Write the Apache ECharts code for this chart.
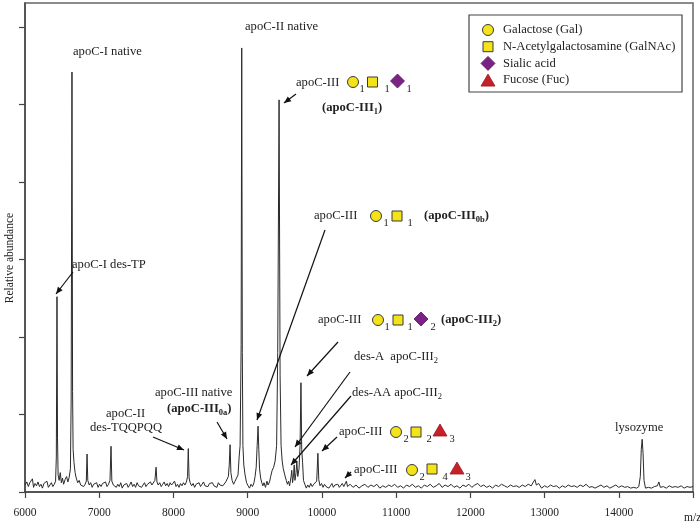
<!DOCTYPE html>
<html>
<head>
<meta charset="utf-8">
<script src="https://cdn.jsdelivr.net/npm/echarts@6/dist/echarts.min.js"></script>
<style>html,body{margin:0;padding:0;background:#fff}#c{width:700px;height:525px}</style>
</head>
<body>
<div id="c"></div>
<script>
// ---- data ----
const mz = [
6000,6025,6045,6065,6085,6100,6115,6135,6155,6175,6195,6215,6235,6255,6275,6295,6315,6335,6355,6375,6395,6412,6422,6431,6438,6446,6460,6475,6490,6505,6520,6540,6560,6578,6595,6612,6622,6633,6641,6648,6660,6675,6690,6710,6730,6750,6770,6790,6810,6826,6836,6846,6865,6885,6905,6925,6945,6965,6985,
7005,7025,7045,7065,7085,7105,7125,7145,7159,7170,7190,7210,7230,7250,7270,7290,7310,7330,7350,7370,7390,7410,7430,7450,7470,7490,7510,7530,7550,7570,7590,7610,7630,7650,7670,7690,7710,7730,7750,7766,7778,7795,7815,7835,7855,7875,7895,7915,7935,7955,7975,7995,
8015,8035,8055,8075,8095,8115,8135,8155,8175,8190,8200,8211,8225,8245,8265,8285,8305,8325,8345,8365,8385,8405,8425,8445,8465,8485,8505,8525,8545,8565,8585,8605,8625,8645,8665,8685,8705,8725,8740,8752,8763,8774,8790,8810,8830,8850,8870,8885,8898,8912,8920,8928,8936,8948,8965,8985,
9005,9025,9045,9065,9085,9100,9115,9128,9140,9150,9160,9175,9190,9205,9220,9240,9260,9275,9295,9310,9330,9350,9370,9390,9405,9423,9437,9450,9465,9480,9500,9520,9535,9550,9565,9585,9594,9605,9618,9627,9637,9652,9662,9675,9692,9706,9718,9728,9740,9752,9770,9790,9810,9830,9850,9870,9890,9910,9930,9946,9958,9975,9995,
10015,10035,10055,10075,10095,10115,10135,10155,10175,10195,10215,10235,10255,10275,10295,10315,10330,10345,10380,10420,10460,10500,10540,10580,10620,10660,10700,10740,10780,10820,10860,10900,10940,10980,
11020,11060,11100,11140,11180,11220,11260,11300,11340,11380,11420,11460,11500,11540,11580,11620,11660,11700,11740,11780,11820,11860,11900,11940,11980,
12020,12060,12100,12140,12180,12220,12260,12300,12340,12380,12420,12460,12500,12540,12580,12620,12660,12700,12740,12780,12820,12850,12870,12890,12920,12960,
13000,13040,13080,13120,13160,13200,13240,13280,13320,13360,13400,13440,13480,13520,13560,13600,13640,13680,13720,13760,13800,13840,13880,13920,13960,
14000,14040,14080,14120,14160,14200,14240,14270,14290,14303,14315,14327,14340,14360,14400,14440,14480,14520,14540,14560,14600,14640,14680,14720,14760,14800,14840,14880,14920,14960,15000
];
const abundance = [
0.09,0.13,0.07,0.12,0.10,0.17,0.06,0.11,0.08,0.13,0.07,0.10,0.05,0.11,0.09,0.14,0.06,0.09,0.12,0.07,0.10,0.14,0.45,2.52,0.70,0.22,0.15,0.25,0.12,0.18,0.10,0.16,0.20,0.13,0.19,0.30,1.20,5.42,1.30,0.55,0.38,0.25,0.18,0.12,0.15,0.09,0.11,0.07,0.10,0.14,0.49,0.15,0.09,0.12,0.06,0.10,0.08,0.12,0.06,
0.10,0.07,0.11,0.09,0.13,0.07,0.10,0.15,0.59,0.14,0.09,0.11,0.06,0.10,0.07,0.12,0.05,0.09,0.07,0.11,0.06,0.09,0.13,0.07,0.10,0.06,0.12,0.08,0.10,0.06,0.09,0.12,0.07,0.10,0.08,0.13,0.09,0.11,0.15,0.32,0.13,0.09,0.12,0.07,0.10,0.13,0.08,0.11,0.07,0.12,0.09,0.10,
0.14,0.07,0.10,0.06,0.11,0.08,0.12,0.09,0.13,0.20,0.56,0.18,0.12,0.08,0.11,0.06,0.10,0.08,0.12,0.07,0.10,0.13,0.08,0.10,0.07,0.11,0.09,0.12,0.08,0.10,0.06,0.12,0.09,0.11,0.08,0.10,0.13,0.11,0.20,0.35,0.61,0.25,0.15,0.10,0.14,0.12,0.22,0.45,0.60,1.90,5.73,1.80,0.60,0.35,0.22,0.12,
0.08,0.05,0.10,0.07,0.12,0.20,0.32,0.60,0.85,0.55,0.30,0.18,0.12,0.08,0.12,0.06,0.14,0.09,0.13,0.20,0.28,0.32,0.40,0.60,1.80,5.06,1.50,0.60,0.40,0.30,0.22,0.15,0.10,0.14,0.08,0.20,0.28,0.12,0.22,0.35,0.15,0.25,0.39,0.20,0.30,0.60,1.41,0.55,0.38,0.15,0.10,0.05,0.09,0.06,0.11,0.07,0.10,0.08,0.14,0.50,0.16,0.08,0.11,
0.06,0.10,0.07,0.09,0.05,0.08,0.11,0.06,0.09,0.07,0.10,0.06,0.08,0.11,0.07,0.09,0.14,0.07,0.10,0.06,0.09,0.05,0.08,0.10,0.06,0.09,0.07,0.10,0.05,0.08,0.06,0.09,0.07,0.10,
0.06,0.08,0.05,0.09,0.07,0.10,0.06,0.08,0.05,0.09,0.07,0.10,0.06,0.08,0.11,0.06,0.09,0.07,0.10,0.06,0.08,0.05,0.09,0.07,0.10,
0.06,0.09,0.11,0.07,0.09,0.06,0.08,0.05,0.09,0.07,0.10,0.08,0.06,0.09,0.07,0.08,0.06,0.09,0.07,0.10,0.08,0.13,0.16,0.09,0.11,0.05,
0.08,0.06,0.09,0.07,0.08,0.05,0.08,0.06,0.09,0.07,0.08,0.06,0.09,0.07,0.10,0.06,0.07,0.05,0.07,0.09,0.06,0.08,0.05,0.07,0.09,
0.06,0.08,0.06,0.07,0.05,0.06,0.05,0.07,0.20,0.55,0.68,0.50,0.15,0.05,0.06,0.05,0.07,0.08,0.13,0.06,0.07,0.05,0.08,0.06,0.07,0.06,0.08,0.05,0.07,0.06,0.07
];
const xTicks = [6000,7000,8000,9000,10000,11000,12000,13000,14000];
const yTicks = [0,1,2,3,4,5,6];
const legendItems = ['Galactose (Gal)','N-Acetylgalactosamine (GalNAc)','Sialic acid','Fucose (Fuc)'];

// ---- drawing ----
const FONT = '"Liberation Serif","Times New Roman",serif';
const TXT = '#222';
const YEL = '#f5e31a', PUR = '#7b2384', RED = '#c7202b', EDGE = '#3a3a3a';
const g = [];
function text(x, y, s, opt) {
  opt = opt || {};
  g.push({type:'text', x:x, y:y, rotation: opt.rot || 0, z:10, style:{
    text:s, fill:TXT, fontFamily:FONT, fontSize: opt.size || 12.6, fontWeight: opt.bold ? 'bold' : 'normal',
    textAlign: opt.align || 'left', textVerticalAlign:'middle',
    rich:{ s:{fontFamily:FONT, fontSize:8.5, fontWeight: opt.bold ? 'bold':'normal', fill:TXT, verticalAlign:'bottom', padding:[7,0,0,0]} }
  }});
}
function sub(x, y, s) { text(x, y, s, {size:10.5, align:'center'}); }
function glyph(type, cx, cy) {
  const st = {lineWidth:1, stroke:EDGE};
  if (type === 'c') g.push({type:'circle', z:10, shape:{cx:cx, cy:cy, r:5.5}, style:Object.assign({fill:YEL}, st)});
  if (type === 's') g.push({type:'rect', z:10, shape:{x:cx-5, y:cy-5, width:10, height:10}, style:Object.assign({fill:YEL}, st)});
  if (type === 'd') g.push({type:'polygon', z:10, shape:{points:[[cx,cy-7],[cx+7,cy],[cx,cy+7],[cx-7,cy]]}, style:{fill:PUR, stroke:'#55155c', lineWidth:0.8}});
  if (type === 't') g.push({type:'polygon', z:10, shape:{points:[[cx,cy-6],[cx+7,cy+6],[cx-7,cy+6]]}, style:{fill:RED, stroke:'#9a1a20', lineWidth:0.8}});
}
function arrow(x1, y1, x2, y2) {
  g.push({type:'line', z:9, shape:{x1:x1, y1:y1, x2:x2, y2:y2}, style:{stroke:'#111', lineWidth:1.2}});
  const dx = x2-x1, dy = y2-y1, L = Math.hypot(dx, dy), ux = dx/L, uy = dy/L;
  const bx = x2-ux*7, by = y2-uy*7;
  g.push({type:'polygon', z:9, shape:{points:[[x2,y2],[bx-uy*3,by+ux*3],[bx+uy*3,by-ux*3]]}, style:{fill:'#111'}});
}

// labels
text(73, 52, 'apoC-I native');
text(245, 27, 'apoC-II native');
text(72, 265, 'apoC-I des-TP');
text(296, 83, 'apoC-III');
glyph('c', 353, 82); sub(362, 89, '1'); glyph('s', 372.5, 82); sub(387, 89, '1'); glyph('d', 397.5, 81); sub(409, 89, '1');
text(322, 108, '(apoC-III{s|1})', {bold:true});
text(314, 216, 'apoC-III');
glyph('c', 376, 216); sub(386, 223, '1'); glyph('s', 397, 216); sub(410, 223, '1');
text(424, 216, '(apoC-III{s|0b})', {bold:true});
text(318, 320, 'apoC-III');
glyph('c', 378, 320); sub(387, 327, '1'); glyph('s', 398, 320); sub(410, 327, '1'); glyph('d', 421, 319); sub(433, 327, '2');
text(441, 320, '(apoC-III{s|2})', {bold:true});
text(354, 357, 'des-A  apoC-III{s|2}');
text(352, 393, 'des-AA apoC-III{s|2}');
text(339, 432, 'apoC-III');
glyph('c', 396, 432); sub(406, 439, '2'); glyph('s', 416, 432); sub(429, 439, '2'); glyph('t', 440, 430); sub(452, 439, '3');
text(354, 470, 'apoC-III');
glyph('c', 412, 470); sub(422, 477, '2'); glyph('s', 432, 469); sub(445, 477, '4'); glyph('t', 457, 468); sub(468, 477, '3');
text(615, 428, 'lysozyme');
text(155, 393, 'apoC-III native');
text(167, 409, '(apoC-III{s|0a})', {bold:true});
text(106, 414, 'apoC-II');
text(90, 428, 'des-TQQPQQ');
text(10, 258, 'Relative abundance', {size:11.5, align:'center', rot:Math.PI/2});
text(684, 518, 'm/z', {size:11.5});

// arrows
arrow(73, 272, 56, 294);
arrow(296, 94, 284, 103);
arrow(325, 230, 257, 420);
arrow(217, 422, 227, 439);
arrow(153, 437, 184, 450);
arrow(338, 342, 307, 376);
arrow(350, 372, 295, 447);
arrow(351, 396, 291, 465);
arrow(337, 437, 322, 451);
arrow(351, 472, 345, 478);

// legend
g.push({type:'rect', z:10, shape:{x:469, y:15, width:213, height:77}, style:{fill:'#fff', stroke:'#444', lineWidth:1.2}});
const legTypes = ['c','s','d','t'];
legendItems.forEach(function (name, i) {
  const y = 30 + i*16.7;
  glyph(legTypes[i], 488, y);
  text(503, y, name);
});

const chart = echarts.init(document.getElementById('c'), null, {renderer:'canvas'});
chart.setOption({
  animation:false,
  backgroundColor:'#fff',
  grid:{left:25, right:7, top:3, bottom:33, show:true, borderColor:'#666', borderWidth:1.5, backgroundColor:'transparent'},
  xAxis:{type:'value', min:6000, max:15000, interval:1000,
    axisLine:{lineStyle:{color:'#444', width:1.5}},
    axisTick:{show:true, length:6, inside:false, lineStyle:{color:'#444', width:1.2}},
    axisLabel:{color:TXT, fontFamily:FONT, fontSize:11.5, margin:15,
      formatter:function (v) { return xTicks.indexOf(v) >= 0 ? String(v) : ''; }},
    splitLine:{show:false}},
  yAxis:{type:'value', min:0, max:6.31,
    axisLine:{show:true, lineStyle:{color:'#444', width:1.5}},
    axisTick:{show:true, length:6, inside:false, customValues:yTicks, lineStyle:{color:'#444', width:1.2}},
    axisLabel:{show:false}, splitLine:{show:false}},
  series:[{type:'line', data:mz.map(function (m, i) { return [m, abundance[i]]; }),
    showSymbol:false, symbol:'none', lineStyle:{color:'#2a2a2a', width:1}, z:5}],
  graphic:g
});
</script>
</body>
</html>
